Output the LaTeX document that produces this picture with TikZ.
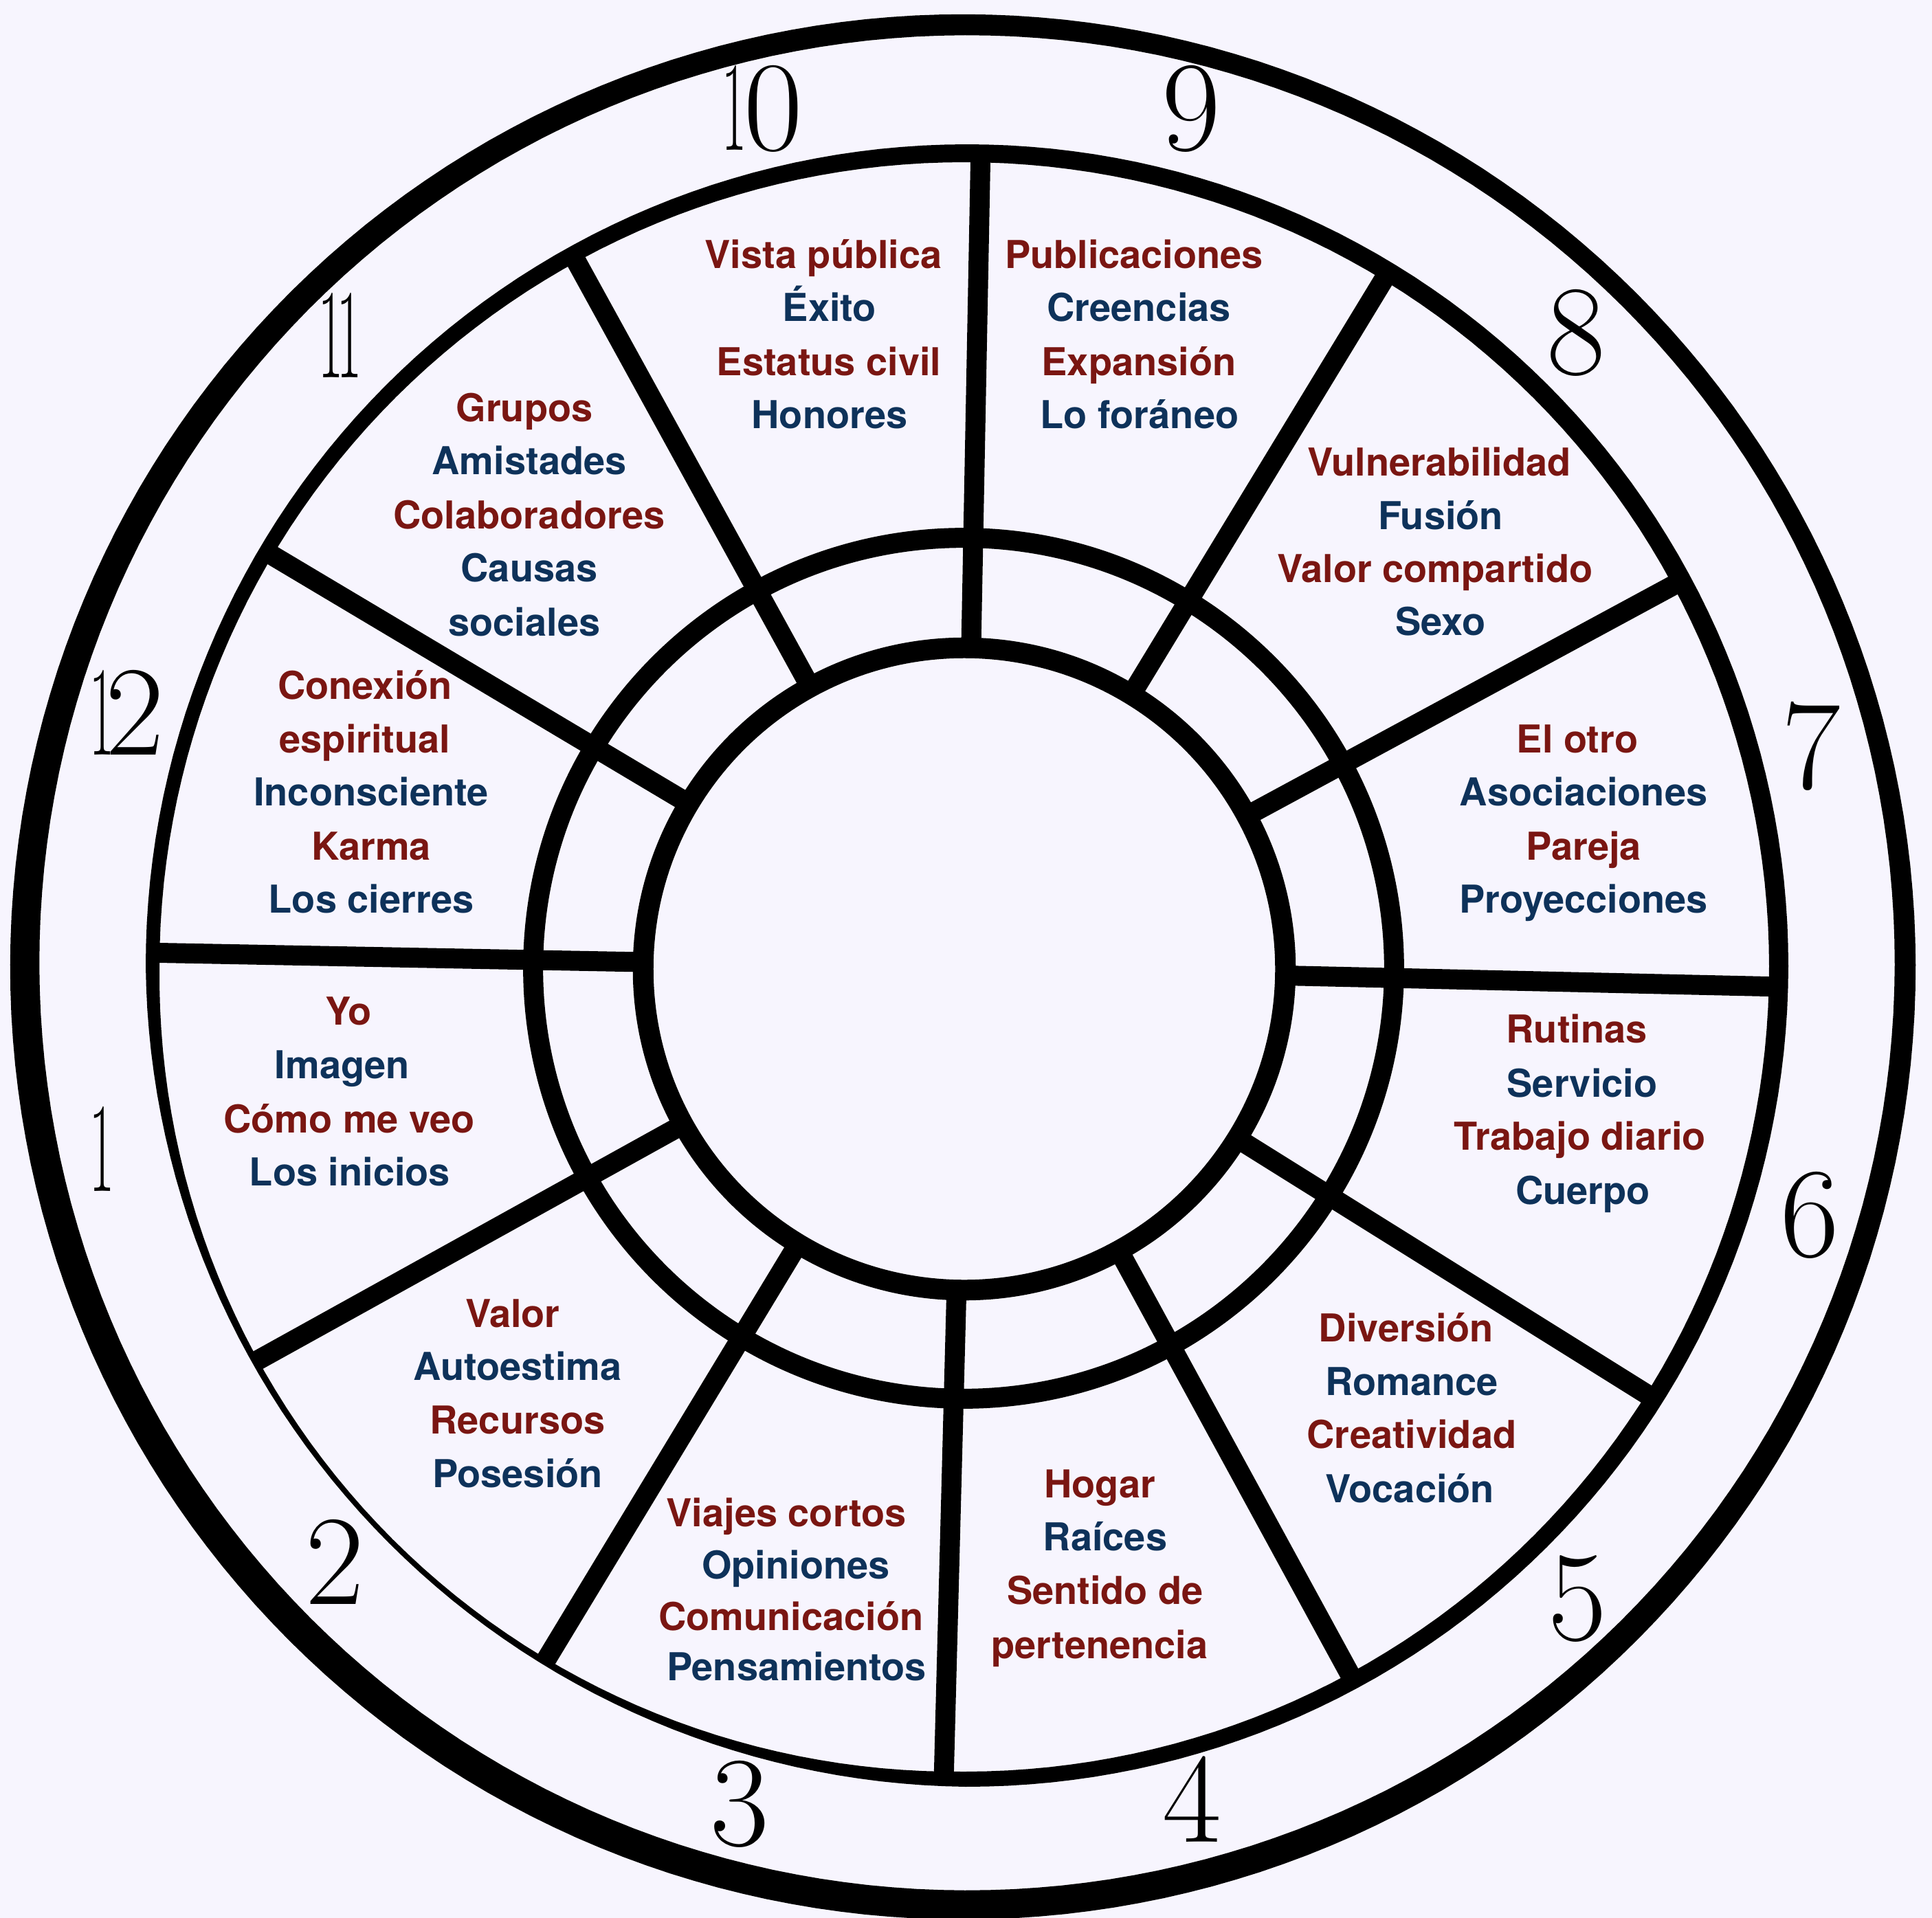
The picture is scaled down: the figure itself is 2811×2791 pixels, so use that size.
\documentclass[tikz,border=0pt]{standalone}
\usepackage{fontspec}
\usepackage{graphicx}
\newfontfamily\heros{TeX Gyre Heros}
\newfontfamily\numf[Extension=.otf]{lmroman17-regular}
\definecolor{bgc}{RGB}{247,245,254}
\definecolor{hred}{RGB}{122,22,18}
\definecolor{hblue}{RGB}{14,50,90}
\newcommand\lblfont{\heros\bfseries\fontsize{15.9}{19}\selectfont}
\newcommand\numfont{\numf\fontsize{53}{53}\selectfont}
\newcommand\narrowone{\scalebox{0.42}[1]{1}}
\tikzset{
  lbl/.style={inner sep=0pt, anchor=base, font=\lblfont},
  rd/.style={lbl, text=hred},
  bl/.style={lbl, text=hblue},
  num/.style={inner sep=0pt, anchor=center, font=\numfont},
  band/.style={fill=black, even odd rule},
  spoke/.style={line width=0.29cm, line cap=butt},
  declare function={
    to(\t)=36.5-8.5*cos(\t-45);
    tb(\t)=24+4*cos(\t)+2*sin(\t)-ifthenelse(abs(\t-225)<45,12*cos(2*(\t-225)),0);
  }
}
\begin{document}
\begin{tikzpicture}[x=0.01cm,y=-0.01cm]
\useasboundingbox (0,0) rectangle (2811,2791);
\fill[bgc] (0,0) rectangle (2811,2791);
% spokes
\foreach \a [count=\i] in {88.9,58.7,28.4,-1.3,-32,-61.4,-91.5,-121.2,-151,178.9,149.2,118.8}{
  \coordinate (s\i-a) at ({1404+470*cos(\a)},{1409-470*sin(\a)});
  \coordinate (s\i-b) at ({1404+1180*cos(\a)},{1409-1180*sin(\a)});
  \draw[spoke] (s\i-a) -- (s\i-b);
}
% outer ring
\fill[band] plot[domain=0:360,samples=241,variable=\t]
  ({1404+(1368+0.5*to(\t))*cos(\t)},{1404-(1368+0.5*to(\t))*sin(\t)}) -- cycle
  plot[domain=0:360,samples=241,variable=\t]
  ({1404+(1368-0.5*to(\t))*cos(\t)},{1404-(1368-0.5*to(\t))*sin(\t)}) -- cycle;
% second ring
\fill[band] plot[domain=0:360,samples=241,variable=\t]
  ({1405+(1183+0.5*tb(\t))*cos(\t)},{1406-(1183+0.5*tb(\t))*sin(\t)}) -- cycle
  plot[domain=0:360,samples=241,variable=\t]
  ({1405+(1183-0.5*tb(\t))*cos(\t)},{1406-(1183-0.5*tb(\t))*sin(\t)}) -- cycle;
% third ring and inner circle
\draw[line width=0.29cm] (1402,1409) circle[radius=6.26cm];
\draw[line width=0.30cm] (1403,1410) circle[radius=4.67cm];
% house numbers
\foreach \x/\y/\n [count=\i] in {1109/158/\narrowone\kern-.02em0, 1733/158/9, 2293/484/8, 495/488/\narrowone\kern-.05em\narrowone,
  2635/1086/7, 185/1037/\narrowone\kern-.07em2, 148/1672/\narrowone, 2633/1768/6, 487/2273/2, 2295/2326/5,
  1076/2625/3, 1734/2618/4}{
  \node[num] (N\i) at (\x,\y) {\n};
}
% labels
\foreach \x/\y/\s/\txt [count=\i] in {
1198/390/rd/Vista pública,
1207/468/bl/Éxito,
1206/546/rd/Estatus civil,
1207/623/bl/Honores,
1650/390/rd/Publicaciones,
1657/468/bl/Creencias,
1657/546/rd/Expansión,
1658/623/bl/Lo foráneo,
2094/692/rd/Vulnerabilidad,
2096/770/bl/Fusión,
2088/847/rd/Valor compartido,
2096/924/bl/Sexo,
2295/1095/rd/El otro,
2304/1172/bl/Asociaciones,
2304/1251/rd/Pareja,
2304/1328/bl/Proyecciones,
2294/1517/rd/Rutinas,
2302/1596/bl/Servicio,
2299/1673/rd/Trabajo diario,
2303/1752/bl/Cuerpo,
2046/1952/rd/Diversión,
2054/2030/bl/Romance,
2054/2107/rd/Creatividad,
2051/2186/bl/Vocación,
1600/2179/rd/Hogar,
1608/2256/bl/Raíces,
1608/2334/rd/Sentido de,
1600/2413/rd/pertenencia,
1144/2221/rd/Viajes cortos,
1158/2297/bl/Opiniones,
1151/2372/rd/Comunicación,
1159/2445/bl/Pensamientos,
746/1931/rd/Valor,
753/2008/bl/Autoestima,
753/2086/rd/Recursos,
753/2164/bl/Posesión,
507/1491/rd/Yo,
498/1569/bl/Imagen,
508/1648/rd/Cómo me veo,
509/1725/bl/Los inicios,
531/1017/rd/Conexión,
531/1095/rd/espiritual,
540/1172/bl/Inconsciente,
540/1251/rd/Karma,
540/1328/bl/Los cierres,
763/613/rd/Grupos,
770/690/bl/Amistades,
770/769/rd/Colaboradores,
770/846/bl/Causas,
763/925/bl/sociales}{
  \node[\s] (L\i) at (\x,\y) {\txt};
}
\end{tikzpicture}
\end{document}
